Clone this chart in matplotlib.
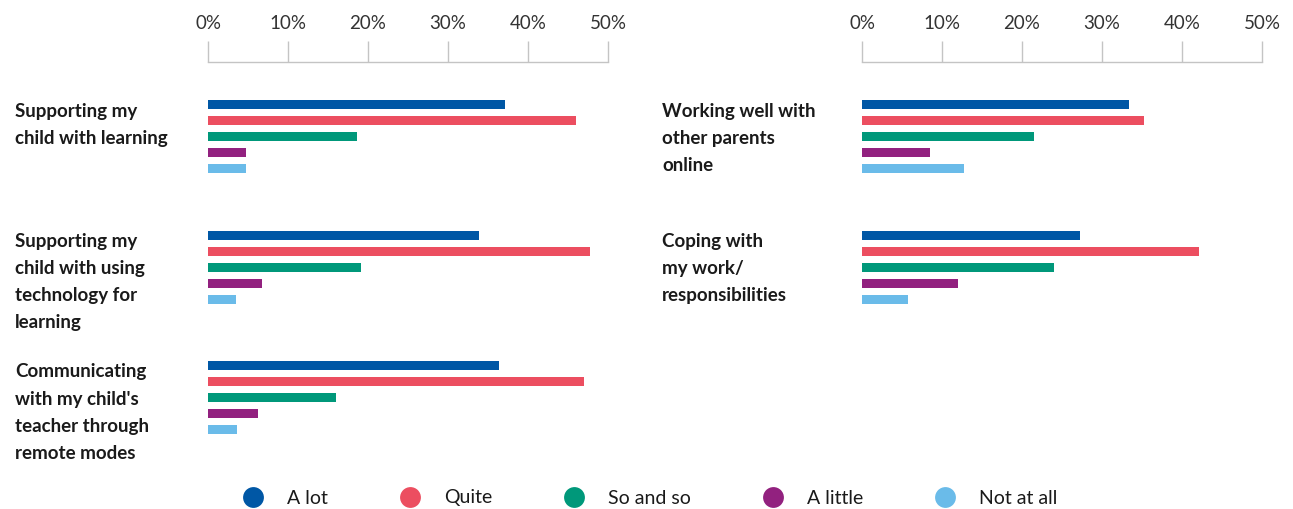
import matplotlib
matplotlib.use("Agg")
import matplotlib.pyplot as plt
from matplotlib.lines import Line2D

plt.rcParams["font.family"] = ["Lato", "DejaVu Sans"]

SERIES = ["A lot", "Quite", "So and so", "A little", "Not at all"]
COLORS = ["#0057A5", "#EC4E60", "#00987A", "#92217F", "#6ABBE9"]

LEFT_LABELS = [
    "Supporting my\nchild with learning",
    "Supporting my\nchild with using\ntechnology for\nlearning",
    "Communicating\nwith my child's\nteacher through\nremote modes",
]
LEFT_VALUES = [
    [37.1, 46.0, 18.6, 4.75, 4.75],
    [33.9, 47.75, 19.1, 6.75, 3.5],
    [36.4, 47.0, 16.0, 6.25, 3.6],
]

RIGHT_LABELS = [
    "Working well with\nother parents\nonline",
    "Coping with\nmy work/\nresponsibilities",
]
RIGHT_VALUES = [
    [33.4, 35.25, 21.5, 8.5, 12.75],
    [27.25, 42.1, 24.0, 12.0, 5.75],
]

TICKS = [0, 10, 20, 30, 40, 50]

W, H = 1293, 509
GROUP_STEP = 130.5
BAR_STEP = 16
BAR_H = 9
FIRST_TOP = 38  # px between axis line and first bar top
AX_TOP = 62
AX_BOTTOM = 470

fig = plt.figure(figsize=(W / 100, H / 100), dpi=100)


def panel(x0, x1, label_x, labels, values):
    ax = fig.add_axes([x0 / W, 1 - AX_BOTTOM / H, (x1 - x0) / W, (AX_BOTTOM - AX_TOP) / H])
    ax.set_xlim(0, 50)
    ax.set_ylim(AX_BOTTOM - AX_TOP, 0)
    for i, (lab, vals) in enumerate(zip(labels, values)):
        top = FIRST_TOP + i * GROUP_STEP
        for j, v in enumerate(vals):
            ax.barh(top + BAR_H / 2 + j * BAR_STEP, v, height=BAR_H,
                    color=COLORS[j], linewidth=0)
        ax.text(label_x, top + 2.5, lab, transform=ax.get_yaxis_transform(),
                ha="left", va="top", fontsize=13.5, fontweight="bold",
                color="#1a1a1a", linespacing=1.72)
    for s in ["right", "bottom", "left"]:
        ax.spines[s].set_visible(False)
    ax.spines["top"].set_color("#c4c4c4")
    ax.spines["top"].set_linewidth(1.0)
    ax.xaxis.tick_top()
    ax.set_xticks(TICKS)
    ax.set_xticklabels([f"{t}%" for t in TICKS])
    ax.tick_params(axis="x", direction="out", length=15, width=1.0,
                   color="#c4c4c4", pad=6.5, labelsize=13.5, labelcolor="#333333")
    ax.set_yticks([])
    ax.patch.set_alpha(0)
    return ax


panel(208, 608, -193 / 8 / 50, LEFT_LABELS, LEFT_VALUES)
panel(862, 1262, -200 / 8 / 50, RIGHT_LABELS, RIGHT_VALUES)

handles = [Line2D([], [], linestyle="none", marker="o", markersize=15,
                  markerfacecolor=c, markeredgewidth=0) for c in COLORS]
fig.legend(handles, SERIES, loc="center", bbox_to_anchor=(650 / W, 1 - 498 / H),
           ncol=5, frameon=False, fontsize=14, handlelength=1.1,
           handletextpad=1.2, columnspacing=3.67, labelcolor="#1a1a1a")

fig.savefig("out.png", dpi=100)
